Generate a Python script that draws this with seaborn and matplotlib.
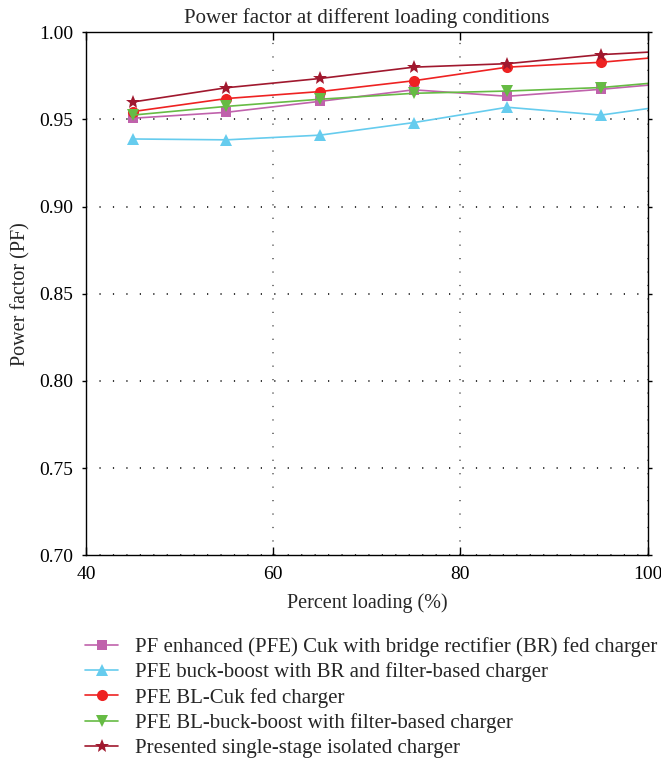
import matplotlib
matplotlib.use("Agg")
import matplotlib.pyplot as plt
import seaborn as sns
import pandas as pd

loading = [45, 55, 65, 75, 85, 95, 105]

pf_cuk_br = [0.9507, 0.9541, 0.9604, 0.9670, 0.9633, 0.9673, 0.9720]
pf_bb_br = [0.9388, 0.9383, 0.9410, 0.9482, 0.9570, 0.9525, 0.9600]
pf_bl_cuk = [0.9545, 0.9620, 0.9660, 0.9722, 0.9800, 0.9828, 0.9875]
pf_bl_bb = [0.9525, 0.9575, 0.9616, 0.9650, 0.9663, 0.9683, 0.9730]
pf_presented = [0.9600, 0.9682, 0.9735, 0.9800, 0.9820, 0.9872, 0.9900]

labels = [
    "PF enhanced (PFE) Cuk with bridge rectifier (BR) fed charger",
    "PFE buck-boost with BR and filter-based charger",
    "PFE BL-Cuk fed charger",
    "PFE BL-buck-boost with filter-based charger",
    "Presented single-stage isolated charger",
]
series = [pf_cuk_br, pf_bb_br, pf_bl_cuk, pf_bl_bb, pf_presented]
colors = ["#C062AC", "#66CCEE", "#EE2222", "#66BB44", "#A0182E"]
markers = ["s", "^", "o", "v", "*"]
sizes = [7, 8, 8, 8, 10]

sns.set_theme(style="white")
plt.rcParams["font.family"] = ["Liberation Serif", "DejaVu Serif"]

fig = plt.figure(figsize=(6.61, 7.69), dpi=100)
ax = fig.add_axes([0.130, 0.278, 0.850, 0.680])

for vals, lab, col, mk, ms in zip(series, labels, colors, markers, sizes):
    df = pd.DataFrame({"x": loading, "y": vals})
    sns.lineplot(data=df, x="x", y="y", ax=ax, color=col, marker=mk,
                 markersize=ms, markeredgewidth=0, linewidth=1.2,
                 label=lab)

ax.set_xlim(40, 100)
ax.set_ylim(0.70, 1.00)
ax.set_xticks([40, 60, 80, 100])
ax.set_yticks([0.70, 0.75, 0.80, 0.85, 0.90, 0.95, 1.00])
ax.set_yticklabels([f"{v:.2f}" for v in ax.get_yticks()])

# dotted grid: black across, grey up
ax.yaxis.grid(True, color="black", linestyle=(0, (0.8, 8)), linewidth=1.1)
ax.xaxis.grid(True, color="#555555", linestyle=(0, (0.8, 8)), linewidth=1.1)

ax.tick_params(axis="y", which="both", direction="out", length=3,
               width=1, pad=6, labelsize=14, colors="black", left=True)
ax.tick_params(axis="y", right=True, labelright=False)
ax.tick_params(axis="x", direction="in", length=6, width=1, pad=8,
               labelsize=14, colors="black", top=True, bottom=True)
for s in ax.spines.values():
    s.set_color("black")
    s.set_linewidth(1.0)

ax.set_title("Power factor at different loading conditions", fontsize=15, pad=7)
ax.set_xlabel("Percent loading (%)", fontsize=14.5, labelpad=7)
ax.set_ylabel("Power factor (PF)", fontsize=14.5, labelpad=6)

handles, labs = ax.get_legend_handles_labels()
ax.get_legend().remove()
fig.legend(handles, labs, loc="upper left", bbox_to_anchor=(85 / 661, 1 - 637 / 769),
           frameon=False, fontsize=15, handlelength=1.6, handletextpad=0.8,
           labelspacing=0.26, borderpad=0, borderaxespad=0)

fig.savefig("out.png", dpi=100)
